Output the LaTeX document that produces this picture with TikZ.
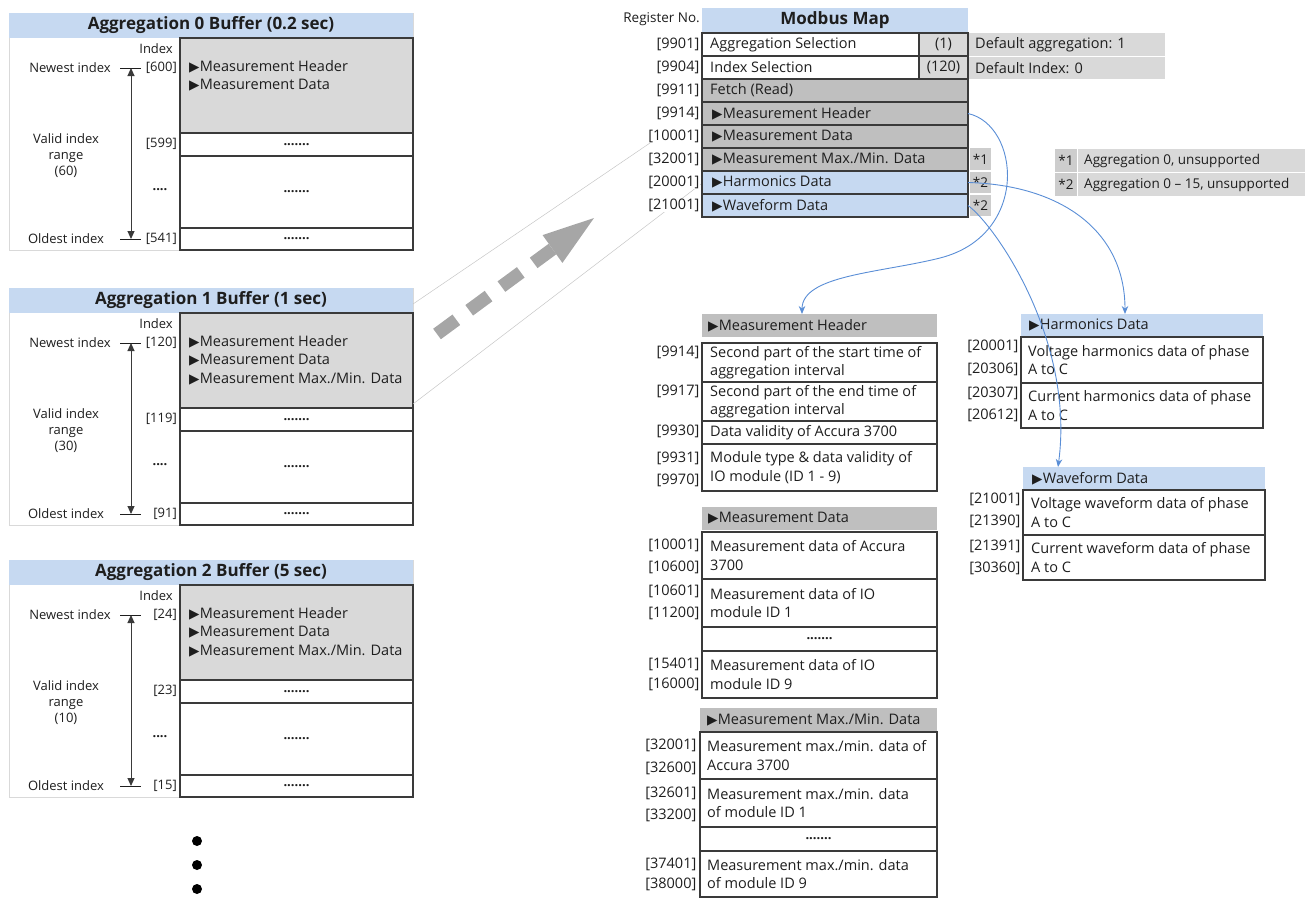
\documentclass[tikz,border=0pt]{standalone}
\usepackage{fontspec}
\setmainfont{Open Sans}
\newfontfamily\symf{DejaVu Sans}
\usetikzlibrary{arrows.meta,calc}
\definecolor{hblue}{HTML}{C6D9F1}
\definecolor{lgray}{HTML}{D9D9D9}
\definecolor{mgray}{HTML}{BFBFBF}
\definecolor{ngray}{HTML}{CDCDCD}
\definecolor{dk}{HTML}{3A3A3A}
\definecolor{tc}{HTML}{1E1E1E}
\definecolor{cblue}{HTML}{5A8ED6}
\definecolor{arrgray}{HTML}{A6A6A6}
\newcommand\tri{{\symf\fontsize{13.5}{13.5}\selectfont ▶}\hspace{0.3pt}}
\newcommand\bxx[7]{\node[#6, anchor=north west, inner sep=0pt, outer sep=0pt, minimum width={(#4)-(#2)}, minimum height={(#5)-(#3)}] (#1) at (#2,#3) {#7};}
\newcommand\dotsf{\fontsize{13}{13}\selectfont\bfseries}
\newcommand\buf[8]{%
\bxx{b#1}{9}{#2}{413}{#2+237}{obox}{}
\bxx{b#1h}{9}{#2}{413}{#2+25}{hbox}{\fontsize{17}{20}\selectfont\bfseries #3}
\bxx{b#1g}{180}{#2+25}{413}{#2+120}{gbox}{}
\bxx{b#1r1}{180}{#2+120}{413}{#2+143}{wbox}{\dotsf .......}
\bxx{b#1r2}{180}{#2+143}{413}{#2+215}{wbox}{\dotsf .......}
\bxx{b#1r3}{180}{#2+215}{413}{#2+237}{wbox}{\dotsf .......}
\node[stxt,anchor=east] (b#1ix) at (173,#2+36) {Index};
\node[stxt] (b#1nw) at (70,#2+55) {Newest index};
\node[stxt,anchor=east] (b#1i1) at (177,#2+55) {[#4]};
\node[stxt,anchor=east] (b#1i2) at (177,#2+131) {[#5]};
\node[stxt] (b#1i3) at (160,#2+177) {\bfseries ....};
\node[stxt,anchor=east] (b#1i4) at (177,#2+226) {[#6]};
\node[stxt] (b#1od) at (66,#2+226) {Oldest index};
\node[stxt,align=center] (b#1vr) at (66,#2+143) {Valid index\\range\\(#7)};
\node[txt,anchor=north west] (b#1dl) at (189,#2+47) {#8};
\coordinate (b#1a) at (131,#2+55);
\coordinate (b#1z) at (131,#2+226);
\draw[tickln] ([xshift=-11pt]b#1a) -- ([xshift=10pt]b#1a);
\draw[tickln] ([xshift=-11pt]b#1z) -- ([xshift=10pt]b#1z);
\draw[rangearr] (b#1a) -- (b#1z);
}
\begin{document}
\begin{tikzpicture}[x=1pt,y=-1pt,
  txt/.style={inner sep=0pt, anchor=west, align=left, text=tc, font=\fontsize{14.5}{18.5}\selectfont},
  stxt/.style={inner sep=0pt, text=tc, font=\fontsize{13}{16}\selectfont},
  lab/.style={inner sep=0.5pt, anchor=east, fill=white, text=tc, font=\fontsize{14.5}{17}\selectfont},
  ntxt/.style={inner sep=0pt, anchor=west, text=tc, font=\fontsize{13.5}{16}\selectfont},
  obox/.style={draw=lgray, line width=1pt, fill=white},
  hbox/.style={fill=hblue, text=tc},
  gbox/.style={draw=dk, line width=1.2pt, fill=lgray},
  wbox/.style={draw=dk, line width=1.2pt, fill=white, text=tc},
  mbox/.style={draw=dk, line width=1.2pt, fill=mgray, text=tc},
  bbox/.style={draw=dk, line width=1.2pt, fill=hblue, text=tc},
  vbox/.style={draw=dk, line width=1.2pt, fill=lgray, text=tc, font=\fontsize{14.5}{17}\selectfont},
  sgray/.style={fill=mgray},
  sblue/.style={fill=hblue},
  dflt/.style={fill=lgray},
  nbox/.style={fill=ngray, text=tc, font=\fontsize{13.5}{16}\selectfont},
  tickln/.style={draw=tc, line width=1pt},
  rangearr/.style={draw=dk, line width=1pt, {Triangle[length=8pt,width=7pt]}-{Triangle[length=8pt,width=7pt]}},
  zline/.style={draw=gray!45, line width=0.5pt},
  curve/.style={draw=cblue, line width=0.9pt, -{Stealth[length=8pt,width=6.5pt]}},
  bigdash/.style={draw=arrgray, line width=13pt, dash pattern=on 24pt off 16pt},
]
\useasboundingbox (0,0) rectangle (1309,898);

% ---- left buffers ----
\buf{0}{13}{Aggregation 0 Buffer (0.2 sec)}{600}{599}{541}{60}{\tri Measurement Header\\\tri Measurement Data}
\buf{1}{288}{Aggregation 1 Buffer (1 sec)}{120}{119}{91}{30}{\tri Measurement Header\\\tri Measurement Data\\\tri Measurement Max./Min. Data}
\buf{2}{560}{Aggregation 2 Buffer (5 sec)}{24}{23}{15}{10}{\tri Measurement Header\\\tri Measurement Data\\\tri Measurement Max./Min. Data}

% continuation dots
\fill[black] (197,841) circle (5pt);
\fill[black] (197,865) circle (5pt);
\fill[black] (197,889) circle (5pt);

% ---- thin projection lines ----
\coordinate (za) at (413,304);
\coordinate (zb) at (650,143);
\coordinate (zc) at (413,404);
\coordinate (zd) at (701,184);
\draw[zline] (za) -- (zb);
\draw[zline] (zc) -- (zd);

% ---- big dashed arrow ----
\coordinate (ds) at (437,334);
\coordinate (de) at (552.5,249);
\coordinate (dt) at (594,218);
\coordinate (dc1) at (542.6,235.1);
\coordinate (dc2) at (562.4,262.9);
\draw[bigdash] (ds) -- (de);
\fill[arrgray] (dt) -- (dc1) -- (dc2) -- cycle;

% ---- Modbus map ----
\node[stxt, anchor=east, font=\fontsize{13.5}{16}\selectfont] (regno) at (700,19) {Register No.};
\bxx{mh}{702}{8}{968}{32}{hbox}{\fontsize{17}{20}\selectfont\bfseries Modbus Map}
\bxx{m1}{702}{33}{919}{56}{wbox}{}
\bxx{m1v}{919}{33}{968}{56}{vbox}{(1)}
\bxx{m2}{702}{56}{919}{79}{wbox}{}
\bxx{m2v}{919}{56}{968}{79}{vbox}{(120)}
\bxx{m3}{702}{79}{968}{102}{mbox}{}
\bxx{m4}{702}{102}{968}{125}{mbox}{}
\bxx{m5}{702}{125}{968}{148}{mbox}{}
\bxx{m6}{702}{148}{968}{171}{mbox}{}
\bxx{m7}{702}{171}{968}{194}{bbox}{}
\bxx{m8}{702}{194}{968}{217}{bbox}{}
\node[txt] (m1t) at (710,44.5) {Aggregation Selection};
\node[txt] (m2t) at (710,67.5) {Index Selection};
\node[txt] (m3t) at (710,90.5) {Fetch (Read)};
\node[txt] (m4t) at (712,113.5) {\tri Measurement Header};
\node[txt] (m5t) at (712,136.5) {\tri Measurement Data};
\node[txt] (m6t) at (712,159.5) {\tri Measurement Max./Min. Data};
\node[txt] (m7t) at (712,182.5) {\tri Harmonics Data};
\node[txt] (m8t) at (712,205.5) {\tri Waveform Data};
\node[lab] (m1l) at (700,44.5) {[9901]};
\node[lab] (m2l) at (700,67.5) {[9904]};
\node[lab] (m3l) at (700,90.5) {[9911]};
\node[lab] (m4l) at (700,113.5) {[9914]};
\node[lab] (m5l) at (700,136.5) {[10001]};
\node[lab] (m6l) at (700,159.5) {[32001]};
\node[lab] (m7l) at (700,182.5) {[20001]};
\node[lab] (m8l) at (700,205.5) {[21001]};

% defaults
\bxx{d1}{969}{33}{1165}{56}{dflt}{}
\bxx{d2}{969}{57}{1165}{79}{dflt}{}
\node[txt] (d1t) at (975,44.5) {Default aggregation: 1};
\node[txt] (d2t) at (975,68) {Default Index: 0};

% note marks
\bxx{n1}{970}{148}{991}{170}{nbox}{*1}
\bxx{n2}{970}{172}{991}{193}{nbox}{*2}
\bxx{n3}{970}{195}{991}{216}{nbox}{*2}

% footnotes
\bxx{f1a}{1055}{149}{1077}{172}{nbox}{*1}
\bxx{f1b}{1078}{149}{1305}{172}{dflt}{}
\bxx{f2a}{1055}{173}{1077}{196}{nbox}{*2}
\bxx{f2b}{1078}{173}{1305}{196}{dflt}{}
\node[ntxt] (f1t) at (1084,160.5) {Aggregation 0, unsupported};
\node[ntxt] (f2t) at (1084,184.5) {Aggregation 0 – 15, unsupported};

% ---- Measurement Header table ----
\bxx{hh}{702}{314}{937}{337}{sgray}{}
\node[txt] (hht) at (708,325.5) {\tri Measurement Header};
\bxx{h1}{702}{343}{937}{382}{wbox}{}
\bxx{h2}{702}{382}{937}{421}{wbox}{}
\bxx{h3}{702}{421}{937}{444}{wbox}{}
\bxx{h4}{702}{444}{937}{491}{wbox}{}
\node[txt] (h1t) at (710,362.5) {Second part of the start time of\\aggregation interval};
\node[txt] (h2t) at (710,401.5) {Second part of the end time of\\aggregation interval};
\node[txt] (h3t) at (710,432.5) {Data validity of Accura 3700};
\node[txt] (h4t) at (710,467.5) {Module type \& data validity of\\IO module (ID 1 - 9)};
\node[lab] (h1l) at (700,352) {[9914]};
\node[lab] (h2l) at (700,391) {[9917]};
\node[lab] (h3l) at (700,431) {[9930]};
\node[lab] (h4l) at (700,458) {[9931]};
\node[lab] (h5l) at (700,480) {[9970]};

% ---- Measurement Data table ----
\bxx{dh}{702}{507}{937}{530}{sgray}{}
\node[txt] (dht) at (708,518.5) {\tri Measurement Data};
\bxx{e1}{702}{532}{937}{579}{wbox}{}
\bxx{e2}{702}{579}{937}{627}{wbox}{}
\bxx{e3}{702}{627}{937}{651}{wbox}{\dotsf .......}
\bxx{e4}{702}{651}{937}{698}{wbox}{}
\node[txt] (e1t) at (710,555.5) {Measurement data of Accura\\3700};
\node[txt] (e2t) at (710,603) {Measurement data of IO\\module ID 1};
\node[txt] (e4t) at (710,674.5) {Measurement data of IO\\module ID 9};
\node[lab] (e1l) at (700,545) {[10001]};
\node[lab] (e2l) at (700,567) {[10600]};
\node[lab] (e3l) at (700,591) {[10601]};
\node[lab] (e4l) at (700,613) {[11200]};
\node[lab] (e5l) at (700,664) {[15401]};
\node[lab] (e6l) at (700,684) {[16000]};

% ---- Measurement Max./Min. table ----
\bxx{xh}{700}{708}{937}{731}{sgray}{}
\node[txt] (xht) at (707,719.5) {\tri Measurement Max./Min. Data};
\bxx{x1}{700}{732}{937}{779}{wbox}{}
\bxx{x2}{700}{779}{937}{827}{wbox}{}
\bxx{x3}{700}{827}{937}{851}{wbox}{\dotsf .......}
\bxx{x4}{700}{851}{937}{897}{wbox}{}
\node[txt] (x1t) at (707,755.5) {Measurement max./min. data of\\Accura 3700};
\node[txt] (x2t) at (707,803) {Measurement max./min. data\\of module ID 1};
\node[txt] (x4t) at (707,874) {Measurement max./min. data\\of module ID 9};
\node[lab] (x1l) at (697,745) {[32001]};
\node[lab] (x2l) at (697,768) {[32600]};
\node[lab] (x3l) at (697,793) {[32601]};
\node[lab] (x4l) at (697,815) {[33200]};
\node[lab] (x5l) at (697,864) {[37401]};
\node[lab] (x6l) at (697,884) {[38000]};

% ---- Harmonics table ----
\bxx{ah}{1021}{314}{1263}{337}{sblue}{}
\node[txt] (aht) at (1029,325.5) {\tri Harmonics Data};
\bxx{a1}{1021}{337}{1263}{383}{wbox}{}
\bxx{a2}{1021}{383}{1263}{428}{wbox}{}
\node[txt] (a1t) at (1028,360) {Voltage harmonics data of phase\\A to C};
\node[txt] (a2t) at (1028,405.5) {Current harmonics data of phase\\A to C};
\node[lab] (a1l) at (1019,346) {[20001]};
\node[lab] (a2l) at (1019,369) {[20306]};
\node[lab] (a3l) at (1019,393) {[20307]};
\node[lab] (a4l) at (1019,415) {[20612]};

% ---- Waveform table ----
\bxx{wh}{1023}{467}{1265}{490}{sblue}{}
\node[txt] (wht) at (1032,478.5) {\tri Waveform Data};
\bxx{w1}{1023}{490}{1265}{535}{wbox}{}
\bxx{w2}{1023}{535}{1265}{580}{wbox}{}
\node[txt] (w1t) at (1031,512.5) {Voltage waveform data of phase\\A to C};
\node[txt] (w2t) at (1031,557.5) {Current waveform data of phase\\A to C};
\node[lab] (w1l) at (1021,499) {[21001]};
\node[lab] (w2l) at (1021,521) {[21390]};
\node[lab] (w3l) at (1021,546) {[21391]};
\node[lab] (w4l) at (1021,568) {[30360]};

% ---- blue curves ----
\coordinate (cj) at (940,258);
\draw[curve] (m4.east) .. controls (1020,125) and (1030,235) .. (cj)
   .. controls (880,273) and (802,275) .. ([xshift=-17.5pt]hh.north);
\draw[curve] (m7.east) .. controls (1060,185) and (1125,230) .. ([xshift=-17pt]ah.north);
\draw[curve] (m8.east) .. controls (995,225) and (1075,340) .. ([xshift=-86pt]wh.north);
\end{tikzpicture}
\end{document}
